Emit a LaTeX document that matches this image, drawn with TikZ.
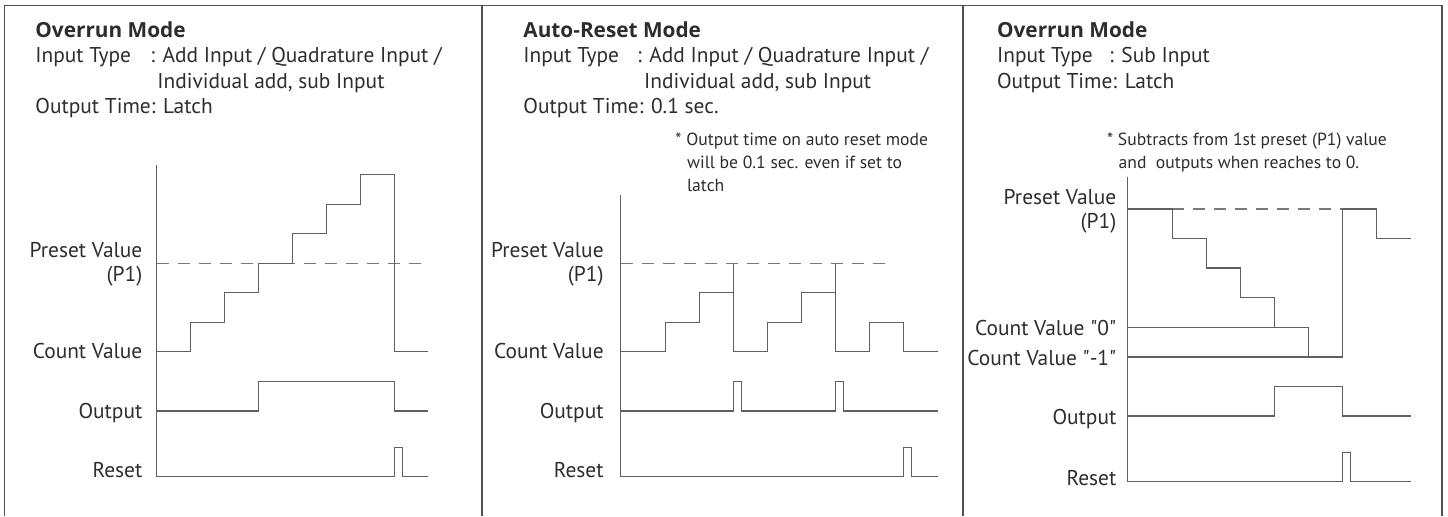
\documentclass[tikz,border=0pt]{standalone}
\usepackage{fontspec}
\setmainfont{PT Sans}
\newfontfamily\titlefont{Open Sans}
\usetikzlibrary{positioning}
\definecolor{inkgray}{RGB}{45,45,45}
\definecolor{wavegray}{RGB}{96,96,96}
\definecolor{dashgray}{RGB}{120,120,120}
\definecolor{framegray}{RGB}{80,80,80}

\begin{document}
\begin{tikzpicture}[x=0.5pt, y=-0.5pt, font=\fontsize{10.7}{12}\selectfont, text=inkgray,
  head/.style={anchor=base west, inner sep=0pt},
  ttl/.style={anchor=base west, inner sep=0pt, font=\titlefont\fontsize{10.4}{12}\selectfont\bfseries},
  note/.style={anchor=base west, inner sep=0pt, font=\fontsize{8.8}{11}\selectfont},
  lbl/.style={anchor=base east, inner sep=0pt},
  wave/.style={draw=wavegray, line width=0.65pt},
  presetline/.style={draw=dashgray, line width=0.65pt, dash pattern=on 6pt off 4.5pt},
  frame/.style={draw=framegray, line width=0.8pt}]
\useasboundingbox (0,0) rectangle (1448,516);

% frame and dividers
\draw[frame] (4.3,516) -- (4.3,5.5) -- (1441.7,5.5) -- (1441.7,516);
\draw[frame] (482,5.5) -- (482,516);
\draw[frame] (963,5.5) -- (963,516);

% panel 1: overrun mode, add input
\node[ttl] (ttl1) at (35,37) {Overrun Mode};
\node[head] (inp1) at (35,62.5) {Input Type};
\node[head] (inpv1) at (150,62.5) {: Add Input / Quadrature Input /};
\node[head] (inpw1) at (157,88) {Individual add, sub Input};
\node[head] (out1) at (35,113.5) {Output Time: Latch};

\node[lbl] (pre1) at (142.7,257.3) {Preset Value};
\node[lbl] (pone1) at (142.7,281) {(P1)};
\node[lbl] (cnt1) at (142.7,358.3) {Count Value};
\node[lbl] (op1) at (142.7,418.3) {Output};
\node[lbl] (rst1) at (142.7,477.3) {Reset};

\draw[wave] (156.7,165) -- (156.7,476.7);
\draw[presetline] (156.7,263.3) -- (428.3,263.3);
\draw[wave] (156.7,351.7) -| (190.7,322.2) -| (224.7,292.7) -| (258.7,263.2) -| (292.7,233.7)
  -| (326.7,204.2) -| (360.7,174.7) -| (394.7,351.7) -- (428.3,351.7);
\draw[wave] (156.7,411) -| (258.7,381.7) -| (394.7,411) -- (428.3,411);
\draw[wave] (156.7,476.7) -| (394.7,447.7) -| (402.7,476.7) -- (428.3,476.7);

% panel 2: auto-reset mode
\node[ttl] (ttl2) at (523,37) {Auto-Reset Mode};
\node[head] (inp2) at (523,62.5) {Input Type};
\node[head] (inpv2) at (636.7,62.5) {: Add Input / Quadrature Input /};
\node[head] (inpw2) at (643.7,88) {Individual add, sub Input};
\node[head] (out2) at (523,113.5) {Output Time: 0.1 sec.};
\node[note] (nta2) at (675,145) {* Output time on auto reset mode};
\node[note] (ntb2) at (686.7,168) {will be 0.1 sec. even if set to};
\node[note] (ntc2) at (686.7,191) {latch};

\node[lbl] (pre2) at (604,257.3) {Preset Value};
\node[lbl] (pone2) at (604,281) {(P1)};
\node[lbl] (cnt2) at (604,358.3) {Count Value};
\node[lbl] (op2) at (604,418.3) {Output};
\node[lbl] (rst2) at (604,477.3) {Reset};

\draw[wave] (620.7,195) -- (620.7,476.7);
\draw[presetline] (620.7,263.3) -- (893.3,263.3);
\draw[wave] (620.7,351.7) -| (665.7,322.2) -| (699.7,292.7) -| (733.7,263.3) -- (733.7,351.7)
  -| (767.7,322.2) -| (801.7,292.7) -| (835.7,263.3) -- (835.7,351.7)
  -| (869.7,322.2) -| (903.7,351.7) -- (938.3,351.7);
\draw[wave] (620.7,411) -| (733.7,381.7) -| (741.7,411) -| (835.7,381.7) -| (843.7,411) -- (938.3,411);
\draw[wave] (620.7,476.7) -| (903.7,447.7) -| (911.7,476.7) -- (938.3,476.7);

% panel 3: overrun mode, sub input
\node[ttl] (ttl3) at (996.7,37) {Overrun Mode};
\node[head] (inp3) at (996.7,62.5) {Input Type};
\node[head] (inpv3) at (1108.7,62.5) {: Sub Input};
\node[head] (out3) at (996.7,88) {Output Time: Latch};
\node[note] (nta3) at (1106.7,145) {* Subtracts from 1st preset (P1) value};
\node[note] (ntb3) at (1118.3,168) {and\ \ outputs when reaches to 0.};

\node[lbl] (pre3) at (1116.7,204.3) {Preset Value};
\node[lbl] (pone3) at (1116.7,228.5) {(P1)};
\node[lbl] (czero3) at (1116.7,335) {Count Value \textquotedbl 0\textquotedbl};
\node[lbl] (cmone3) at (1116.7,365) {Count Value \textquotedbl -1\textquotedbl};
\node[lbl] (op3) at (1116.7,424) {Output};
\node[lbl] (rst3) at (1116.7,485) {Reset};

\draw[wave] (1127.3,176.7) -- (1127.3,481.7);
\draw[presetline] (1172.3,209) -- (1342.3,209);
\draw[wave] (1127.3,209) -| (1172.3,238.5) -| (1206.3,268) -| (1240.3,297.5) -| (1274.3,327.3)
  -| (1308.3,357) -| (1342.3,209) -| (1376.3,238.5) -- (1410.7,238.5);
\draw[wave] (1127.3,327.3) -- (1274.3,327.3);
\draw[wave] (1127.3,357) -- (1308.3,357);
\draw[wave] (1127.3,416) -| (1274.3,386.7) -| (1342.3,416) -- (1410.7,416);
\draw[wave] (1127.3,481.7) -| (1342.3,452.7) -| (1350.3,481.7) -- (1410.7,481.7);
\end{tikzpicture}
\end{document}
